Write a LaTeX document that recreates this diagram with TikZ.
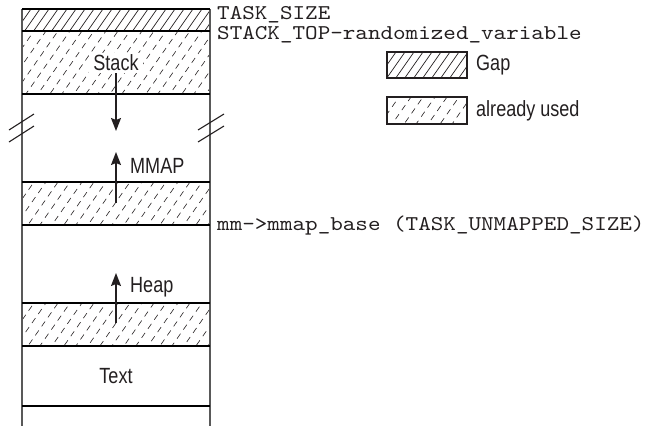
\documentclass[tikz,border=0pt]{standalone}
\usepackage{fontspec}
\newfontfamily\labfont[FakeStretch=0.82]{Liberation Sans}
\newfontfamily\monofont[FakeStretch=1.14]{lmmono10-regular.otf}
\usetikzlibrary{arrows.meta}
\definecolor{ink}{RGB}{35,31,32}
\newcommand\hatchbox[6]{%
  \begin{scope}
  \clip (#1,#2) rectangle (#3,#4);
  \pgfmathsetmacro\hh{#4-#2}
  \pgfmathsetmacro\xs{#1-0.7*\hh-#5}
  \pgfmathsetmacro\xn{\xs+#5}
  \foreach \x [count=\i] in {\xs,\xn,...,#3} {
    \pgfmathsetmacro\ph{mod(\i*4,11)}
    \draw[#6,dash phase=\ph pt] (\x,#4) -- ++(0.7*\hh,-\hh);
  }
  \end{scope}}
\tikzset{
  gaphatch/.style={ink,line width=0.7pt},
  usedhatch/.style={ink,line width=0.6pt,dash pattern=on 6pt off 5pt},
  band/.style={black,line width=1.6pt},
  side/.style={gray!70!black,line width=1.4pt},
  lab/.style={font=\labfont\fontsize{22}{26}\selectfont,text=ink,inner sep=2pt},
  mono/.style={font=\monofont\fontsize{21}{24}\selectfont,text=ink,inner sep=0pt,anchor=base west},
  arr/.style={ink,line width=1.5pt,-{Stealth[length=13pt,width=10pt,inset=2pt]}},
  brk/.style={ink,line width=1.1pt},
  legbox/.style={ink,line width=1.1pt}
}
\begin{document}
\begin{tikzpicture}[x=1pt,y=-1pt]
\useasboundingbox (0,0) rectangle (647,426);
% hatched regions
\hatchbox{22}{9}{210}{31}{9}{gaphatch}
\hatchbox{22}{31}{210}{94}{12}{usedhatch}
\hatchbox{22}{182}{210}{225}{12}{usedhatch}
\hatchbox{22}{303}{210}{346}{12}{usedhatch}
% sides
\draw[side] (22,9) -- (22,426);
\draw[side] (210,9) -- (210,426);
% band lines
\foreach \y in {9,31,94,182,225,303,346,406} \draw[band] (22,\y) -- (210,\y);
% break marks
\draw[brk] (9,130) -- (34,114);
\draw[brk] (9,142) -- (34,126);
\draw[brk] (198,130) -- (224,114);
\draw[brk] (198,142) -- (224,126);
% labels
\node[lab,fill=white,inner xsep=4pt] (stack) at (116,63) {Stack};
\coordinate (stackend) at (116,131);
\draw[arr] (stack.south) -- (stackend);
\coordinate (mmapstart) at (116,203);
\coordinate (mmapend) at (116,152);
\draw[arr] (mmapstart) -- (mmapend);
\node[lab,anchor=west] (mmap) at (128,166) {MMAP};
\coordinate (heapstart) at (116,323);
\coordinate (heapend) at (116,273);
\draw[arr] (heapstart) -- (heapend);
\node[lab,anchor=west] (heap) at (128,287) {Heap};
\node[lab] (text) at (116,376) {Text};
% right texts
\node[mono] (tasksize) at (217,19.5) {TASK\_SIZE};
\node[mono] (stacktop) at (217,39) {STACK\_TOP-randomized\_variable};
\node[mono] (mmapbase) at (217,230) {mm->mmap\_base (TASK\_UNMAPPED\_SIZE)};
% legend
\hatchbox{387}{52}{467}{78}{9}{gaphatch}
\draw[legbox] (387,52) rectangle (467,78);
\node[lab,anchor=west] (gap) at (474,65) {Gap};
\hatchbox{387}{97}{467}{124}{12}{usedhatch}
\draw[legbox] (387,97) rectangle (467,124);
\node[lab,anchor=west] (used) at (474,110.5) {already used};
\end{tikzpicture}
\end{document}
